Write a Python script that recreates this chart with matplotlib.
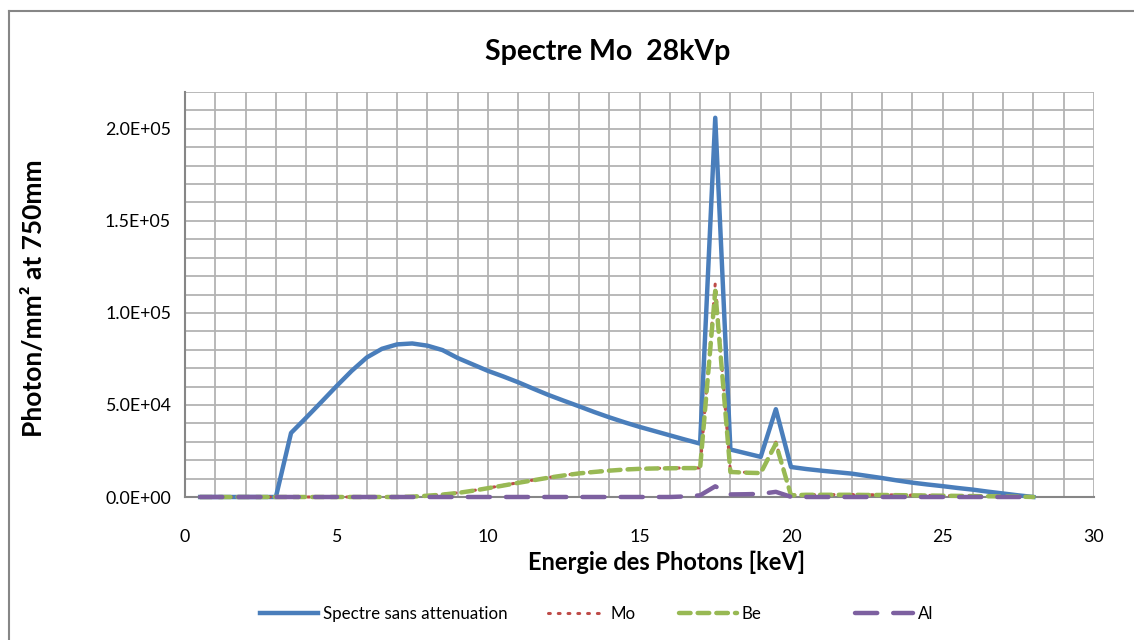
import matplotlib.pyplot as plt
from matplotlib.ticker import MultipleLocator, FuncFormatter
from matplotlib.lines import Line2D

plt.rcParams['font.family'] = ['Lato', 'DejaVu Sans']

# --- Data (photon energy in keV, every 0.5 keV) ---
energy = [0.5, 1.0, 1.5, 2.0, 2.5, 3.0, 3.5, 4.0, 4.5, 5.0,
          5.5, 6.0, 6.5, 7.0, 7.5, 8.0, 8.5, 9.0, 9.5, 10.0,
          10.5, 11.0, 11.5, 12.0, 12.5, 13.0, 13.5, 14.0, 14.5, 15.0,
          15.5, 16.0, 16.5, 17.0, 17.5, 18.0, 18.5, 19.0, 19.5, 20.0,
          20.5, 21.0, 21.5, 22.0, 22.5, 23.0, 23.5, 24.0, 24.5, 25.0,
          25.5, 26.0, 26.5, 27.0, 27.5, 28.0]

spectre = [0, 0, 0, 0, 0, 0, 34800, 43100, 51600, 60200,
           68500, 75800, 80500, 82900, 83400, 82200, 79800, 75500, 72000, 68500,
           65500, 62300, 58800, 55400, 52300, 49300, 46200, 43300, 40600, 38100,
           35800, 33500, 31200, 29000, 206000, 25800, 23800, 21800, 47700, 16300,
           15200, 14300, 13500, 12700, 11500, 10300, 9000, 7800, 6800, 5900,
           4900, 4000, 2900, 1900, 900, 0]

mo = [0, 0, 0, 0, 0, 0, 0, 0, 0, 0,
      0, 0, 0, 0, 200, 700, 1400, 2300, 3500, 4900,
      6300, 7800, 9200, 10600, 11800, 12900, 13700, 14400, 15000, 15400,
      15600, 15700, 15800, 15800, 116000, 13800, 13400, 13200, 29800, 1000,
      1300, 1300, 1300, 1300, 1200, 1200, 1100, 1000, 900, 800,
      700, 600, 500, 300, 200, 0]

be = [0, 0, 0, 0, 0, 0, 0, 0, 0, 0,
      0, 0, 0, 0, 200, 700, 1300, 2200, 3400, 4800,
      6200, 7700, 9100, 10500, 11700, 12800, 13600, 14300, 14900, 15300,
      15500, 15600, 15700, 15700, 112000, 13600, 13200, 13000, 29000, 900,
      1200, 1200, 1200, 1200, 1100, 1100, 1000, 900, 800, 700,
      600, 500, 400, 300, 200, 0]

al = [0, 0, 0, 0, 0, 0, 0, 0, 0, 0,
      0, 0, 0, 0, 0, 0, 0, 0, 0, 0,
      0, 0, 0, 0, 0, 0, 0, 0, 0, 0,
      0, 0, 300, 900, 5800, 1400, 1500, 1700, 2800, 100,
      0, 0, 0, 0, 0, 0, 0, 0, 0, 0,
      0, 0, 0, 0, 0, 0]

labels = ["Spectre sans attenuation", "Mo", "Be", "Al"]

# --- Figure ---
fig = plt.figure(figsize=(11.34, 6.4), dpi=100)
ax = fig.add_axes([185/1134, 1 - 497/640, (1094 - 185)/1134, (497 - 92)/640])

blue, red, green, purple = "#4A7EBB", "#BE4B48", "#98B954", "#7D60A0"
dot = (0, (0.6, 2.6))
dash = (0, (2.6, 1.6))
longdash = (0, (5.0, 3.6))

h1, = ax.plot(energy, spectre, color=blue, lw=3.2, zorder=3, clip_on=False)
h2, = ax.plot(energy, mo, color=red, lw=2.2, linestyle=dot,
              dash_capstyle='round', zorder=4, clip_on=False)
h3, = ax.plot(energy, be, color=green, lw=3.2, linestyle=dash,
              dash_capstyle='round', zorder=5, clip_on=False)
h4, = ax.plot(energy, al, color=purple, lw=3.2, linestyle=longdash,
              dash_capstyle='round', zorder=6, clip_on=False)

# --- Axes ---
ax.set_xlim(0, 30)
ax.set_ylim(0, 2.2e5)
ax.xaxis.set_major_locator(MultipleLocator(5))
ax.xaxis.set_minor_locator(MultipleLocator(1))
ax.yaxis.set_major_locator(MultipleLocator(5e4))
ax.yaxis.set_minor_locator(MultipleLocator(1e4))
ax.yaxis.set_major_formatter(FuncFormatter(lambda v, p: f"{v:.1E}"))

ax.grid(True, which='both', color="#B3B3B3", lw=1.3, zorder=0)
ax.set_axisbelow(True)
for side in ['top', 'right']:
    ax.spines[side].set_visible(False)
for side in ['left', 'bottom']:
    ax.spines[side].set_color("#868686")
    ax.spines[side].set_linewidth(1.5)
    ax.spines[side].set_zorder(2)
ax.tick_params(which='both', length=0, labelsize=12.8)
ax.tick_params(axis='y', pad=10)
ax.tick_params(axis='x', pad=23)

ax.set_xlabel("Energie des Photons [keV]", fontsize=17, fontweight='bold')
ax.set_ylabel("Photon/mm² at 750mm", fontsize=19, fontweight='bold')
ax.xaxis.set_label_coords(0.53, -0.133)
ax.yaxis.set_label_coords(-0.153, 0.49)
fig.text(608/1134, 1 - 52/640, "Spectre Mo  28kVp", fontsize=20.5, fontweight='bold',
         ha='center', va='center')

# --- Legend: one entry per slot, as laid out in the original ---
leg_x = [260, 548, 679, 855]
for h, lab, x0 in zip([h1, h2, h3, h4], labels, leg_x):
    leg = fig.legend([h], [lab], loc='center left', bbox_to_anchor=(x0/1134, 1 - 614/640),
                     frameon=False, fontsize=12.2, handlelength=3.4,
                     handletextpad=0.3, borderpad=0, borderaxespad=0)

# --- Chart border (left and top visible) ---
fig.add_artist(Line2D([9/1134, 9/1134], [0, 1 - 11/640], color="#868686", lw=1.5))
fig.add_artist(Line2D([9/1134, 1], [1 - 11/640, 1 - 11/640], color="#868686", lw=1.5))

fig.savefig("out.png", dpi=100)
